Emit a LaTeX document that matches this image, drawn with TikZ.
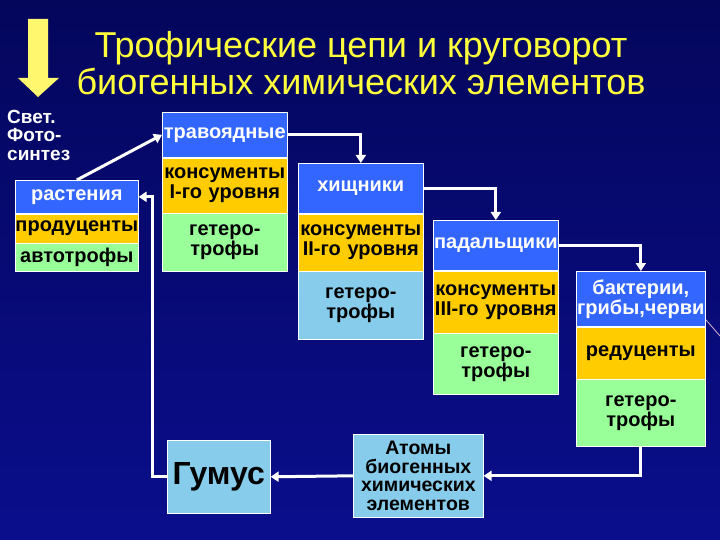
\documentclass[tikz,border=0pt]{standalone}
\usepackage{fontspec}
\setmainfont{Liberation Sans}
\usepackage{tikz}
\usetikzlibrary{positioning, arrows.meta, calc}
\definecolor{slidetop}{RGB}{4, 6, 92}
\definecolor{slidebottom}{RGB}{10, 14, 140}
\definecolor{rowblue}{RGB}{51, 102, 255}
\definecolor{roworange}{RGB}{255, 204, 0}
\definecolor{rowgreen}{RGB}{153, 255, 153}
\definecolor{rowsky}{RGB}{135, 204, 235}
\definecolor{titleyellow}{RGB}{255, 255, 60}
\definecolor{arrowyellow}{RGB}{255, 248, 110}

\begin{document}
\begin{tikzpicture}[x=1pt, y=-1pt,
  font=\fontsize{20}{20}\selectfont\bfseries,
  node distance=0pt,
  cell/.style={
    draw=white, line width=0.6pt, align=center,
    inner xsep=0pt, inner ysep=0pt
  },
  toprow/.style={cell, fill=rowblue, text=white},
  midrow/.style={cell, fill=roworange, text=black},
  botrow/.style={cell, fill=rowgreen, text=black},
  skyrow/.style={cell, fill=rowsky, text=black},
  flow/.style={draw=white, line width=3pt, -{Triangle[width=10pt,length=8pt]}}
]
\useasboundingbox (0,0) rectangle (720,540);
\shade[top color=slidetop, bottom color=slidebottom] (0,0) rectangle (720,540);
\draw[violet!30, line width=0.8pt] (700,313) -- (720,336);

\fill[arrowyellow] (28,19) -- (48,19) -- (48,78) -- (59,78) -- (38,97) -- (18,78) -- (28,78) -- cycle;
\node[text=titleyellow, align=center, font=\fontsize{36}{37}\selectfont\mdseries] (title) at (361,63)
  {Трофические цепи и круговорот\\биогенных химических элементов};
\node[anchor=north west, align=left, inner sep=0pt, text=white,
  font=\fontsize{19}{18.5}\selectfont\bfseries] (light) at (7,110) {Свет.\\Фото-\\синтез};

\node[toprow, text width=123pt, minimum height=33pt, anchor=north west] (p1) at (15,180) {растения};
\node[midrow, text width=123pt, minimum height=29pt, below=of p1] (p2) {продуценты};
\node[botrow, text width=123pt, minimum height=28pt, below=of p2] (p3) {автотрофы};

\node[toprow, text width=125pt, minimum height=45pt, anchor=north west] (h1) at (162,112) {травоядные};
\node[midrow, text width=125pt, minimum height=55pt, below=of h1] (h2) {консументы\\I-го уровня};
\node[botrow, text width=125pt, minimum height=58pt, below=of h2] (h3) {гетеро-\\трофы};

\node[toprow, text width=125pt, minimum height=50pt, anchor=north west] (c1) at (298,163) {хищники};
\node[midrow, text width=125pt, minimum height=57pt, below=of c1] (c2) {консументы\\II-го уровня};
\node[skyrow, text width=125pt, minimum height=68pt, below=of c2] (c3) {гетеро-\\трофы};

\node[toprow, text width=125pt, minimum height=50pt, anchor=north west] (s1) at (433,220) {падальщики};
\node[midrow, text width=125pt, minimum height=62pt, below=of s1] (s2) {консументы\\III-го уровня};
\node[botrow, text width=125pt, minimum height=61pt, below=of s2] (s3) {гетеро-\\трофы};

\node[toprow, text width=129pt, minimum height=55pt, anchor=north west] (d1) at (576,271) {бактерии,\\грибы,черви};
\node[midrow, text width=129pt, minimum height=52pt, below=of d1] (d2) {редуценты};
\node[botrow, text width=129pt, minimum height=67pt, below=of d2] (d3) {гетеро-\\трофы};

\node[skyrow, text width=103pt, minimum height=73pt, anchor=north west,
  font=\fontsize{32}{32}\selectfont\bfseries] (humus) at (167,440) {Гумус};
\node[skyrow, text width=130pt, minimum height=83pt, anchor=north west,
  font=\fontsize{19.5}{18.7}\selectfont\bfseries] (atoms) at (353,434) {Атомы\\биогенных\\химических\\элементов};

\draw[flow] (p1.north) -- (h1.west);
\draw[flow] (h1.east) -| (c1.north);
\draw[flow] (c1.east) -| (s1.north);
\draw[flow] (s1.east) -| (d1.north);
\draw[flow] (d3.south) |- (atoms.east);
\draw[flow] (atoms.west) -- (humus.east);
\draw[flow] (humus.west) -- ++(-15,0) |- (p1.east);
\end{tikzpicture}
\end{document}
